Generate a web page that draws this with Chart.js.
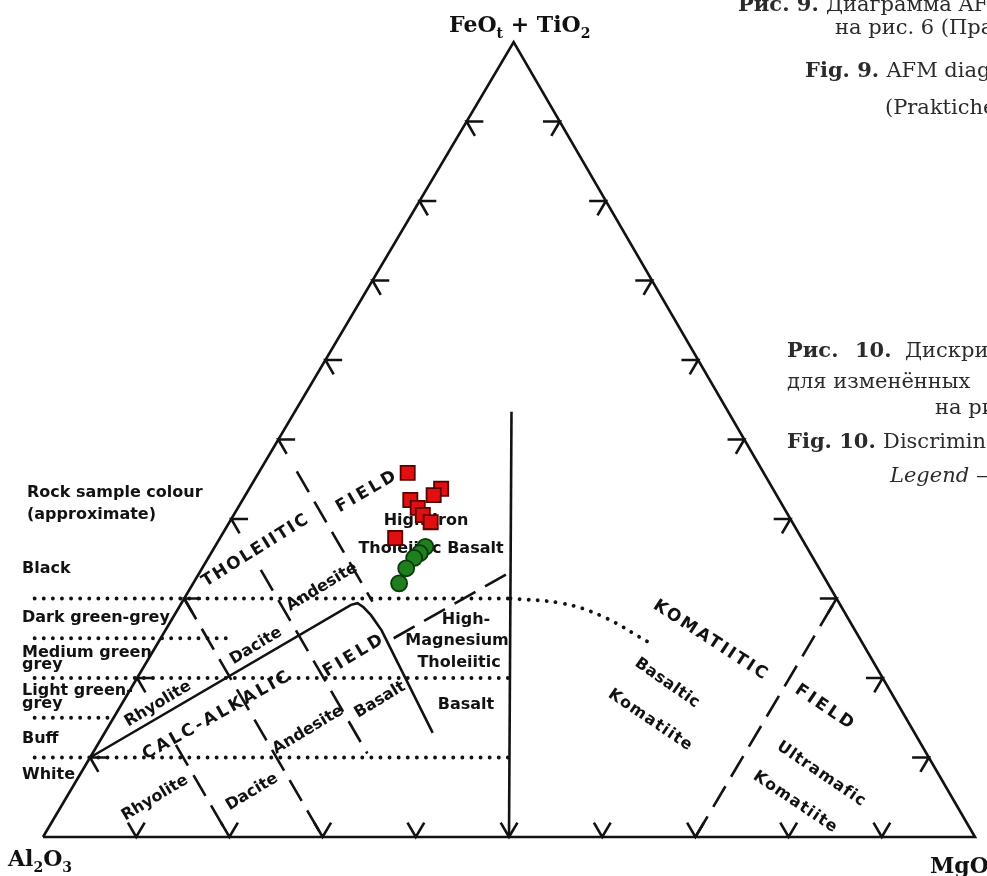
<!DOCTYPE html>
<html>
<head>
<meta charset="utf-8">
<script src="https://cdn.jsdelivr.net/npm/chart.js@4.4.1/dist/chart.umd.min.js"></script>
<style>
  html, body { margin: 0; padding: 0; background: #fff; overflow: hidden; }
  canvas { display: block; }
</style>
</head>
<body>
<canvas id="jensen" width="987" height="876"></canvas>
<script>
// Jensen cation plot, values in cation % as [Al, Fe+Ti, Mg]
const TICKS = [10, 20, 30, 40, 50, 60, 70, 80, 90];
const TRIANGLE = [[100, 0, 0], [0, 100, 0], [0, 0, 100], [100, 0, 0]];

// rock colour scale (dotted, Fe levels) and where each line stops (Mg)
const COLOUR_FE = [30, 25, 20, 15, 10];
const COLOUR_END_MG = [35, 7, 40, 0, 45];

// constant-Al dashed subdivisions: Al, Fe at top end, Fe at bottom end
const SUB_AL = [80, 70, 60, 50];
const SUB_FE_TOP = [11.6, 30, 33.6, 46];
const SUB_FE_BOTTOM = [0, 0, 10.5, 29.6];

const TH_CA_LINE = [[90, 10, 0], [52.5, 29.2, 18.3], [51.7, 29.4, 18.9], [51.3, 28.9, 19.8], [51, 27.9, 21.1], [50.8, 26, 23.2], [51.7, 13.1, 35.2]];
const FE_EQ_MG_DASH = [[50, 25, 25], [33.4, 33.3, 33.3]];
const AL_EQ_MG_LINE = [[50, 0, 50], [23.25, 53.5, 23.25]];
const KOMATIITE_DOTS = [[35, 30, 35], [29.8, 29.4, 40.8], [26.3, 27.8, 45.9], [22.9, 24.5, 52.6]];
const MG70_DASH = [[30, 0, 70], [0, 30, 70]];

// samples
const RED_AL = [38.2, 35.6, 36.8, 39.6, 39.3, 39.2, 38.8, 43.6];
const RED_FE = [45.8, 43.8, 43.0, 42.4, 41.4, 40.5, 39.6, 37.6];
const RED_MG = [16.0, 20.6, 20.2, 18.0, 19.3, 20.3, 21.6, 18.8];
const GREEN_AL = [40.9, 41.9, 42.8, 44.3, 46.0];
const GREEN_FE = [36.5, 35.7, 35.1, 33.8, 31.9];
const GREEN_MG = [22.6, 22.4, 22.1, 21.9, 22.1];

const INK = '#121212';
const TICK_LEN = 1.8;
const LEGEND_EDGE_U = -0.009;
const APEX_U = 0.505; // scanned apex sits slightly right of centre

const T = (al, fe, mg) => ({ x: (mg + fe * APEX_U) / 100, y: fe / 100 });

function poly(points, extra) {
    return Object.assign({
        data: points.map((p) => T(p[0], p[1], p[2])),
        showLine: true, pointRadius: 0, borderColor: INK, borderWidth: 2.6,
        fill: false, clip: false, tension: 0, borderCapStyle: 'butt', borderJoinStyle: 'miter',
    }, extra || {});
}
const DOTTED = { borderDash: [0.1, 9], borderCapStyle: 'round', borderWidth: 3.8 };
const DASHED = { borderDash: [24, 11], borderWidth: 2.6 };

// ─── datasets ─────────────────────────────────────────────
const datasets = [];

datasets.push({
    data: GREEN_AL.map((a, i) => T(a, GREEN_FE[i], GREEN_MG[i])),
    pointStyle: 'circle', pointRadius: 8, backgroundColor: '#1f7f1f', borderColor: '#0a3a0a', borderWidth: 1.8, clip: false,
});
datasets.push({
    data: RED_AL.map((a, i) => T(a, RED_FE[i], RED_MG[i])),
    pointStyle: 'rect', pointRadius: 10, backgroundColor: '#e01010', borderColor: '#5a0000', borderWidth: 1.8, clip: false,
});

datasets.push(poly(TRIANGLE));
datasets.push(poly(TH_CA_LINE));
datasets.push(poly(AL_EQ_MG_LINE));
datasets.push(poly(FE_EQ_MG_DASH, DASHED));
datasets.push(poly(MG70_DASH, DASHED));
datasets.push(poly(KOMATIITE_DOTS, Object.assign({ tension: 0.4 }, DOTTED)));

SUB_AL.forEach((al, i) => {
    const top = SUB_FE_TOP[i], bot = SUB_FE_BOTTOM[i];
    datasets.push(poly([[al, top, 100 - al - top], [al, bot, 100 - al - bot]], DASHED));
});

COLOUR_FE.forEach((fe, i) => {
    const ds = poly([[0, fe, 0], [100 - fe - COLOUR_END_MG[i], fe, COLOUR_END_MG[i]]], DOTTED);
    ds.data[0] = { x: LEGEND_EDGE_U, y: fe / 100 };
    datasets.push(ds);
});

// tick chevrons, vertex on the side, opening inward
const d = TICK_LEN;
TICKS.forEach((t) => {
    datasets.push(poly([[100 - t - d, d, t], [100 - t, 0, t], [100 - t, d, t - d]]));   // bottom
    datasets.push(poly([[100 - t - d, t, d], [100 - t, t, 0], [100 - t, t - d, d]]));   // left
    datasets.push(poly([[d, t, 100 - t - d], [0, t, 100 - t], [d, t - d, 100 - t]]));   // right
});

// ─── text ─────────────────────────────────────────────────
const SANS = '"DejaVu Sans", "Liberation Sans", sans-serif';
const SERIF = '"DejaVu Serif", serif';
const CAPS = 'bold 17px ' + SANS;
const LOWER = 'bold 16px ' + SANS;

const PLOT_LABELS = [
    { t: 'THOLEIITIC', x: 255, y: 551, r: -32, f: CAPS, ls: 1.8 },
    { t: 'FIELD', x: 366, y: 492, r: -30, f: CAPS, ls: 3 },
    { t: 'High-Iron', x: 426, y: 521, r: 0, f: LOWER },
    { t: 'Tholeiitic Basalt', x: 431, y: 549, r: 0, f: LOWER },
    { t: 'Andesite', x: 322, y: 587, r: -31, f: LOWER },
    { t: 'Dacite', x: 256, y: 646, r: -31, f: LOWER },
    { t: 'Rhyolite', x: 158, y: 704, r: -31, f: LOWER },
    { t: 'CALC-ALKALIC', x: 216, y: 716, r: -29, f: CAPS, ls: 2.6 },
    { t: 'FIELD', x: 353, y: 656, r: -31, f: CAPS, ls: 3 },
    { t: 'Andesite', x: 308, y: 730, r: -31, f: LOWER },
    { t: 'Basalt', x: 380, y: 700, r: -31, f: LOWER },
    { t: 'Rhyolite', x: 155, y: 798, r: -31, f: LOWER },
    { t: 'Dacite', x: 252, y: 792, r: -31, f: LOWER },
    { t: 'High-', x: 466, y: 620, r: 0, f: LOWER },
    { t: 'Magnesium', x: 457, y: 641, r: 0, f: LOWER },
    { t: 'Tholeiitic', x: 459, y: 663, r: 0, f: LOWER },
    { t: 'Basalt', x: 466, y: 705, r: 0, f: LOWER },
    { t: 'KOMATIITIC', x: 710, y: 640, r: 33, f: CAPS, ls: 2.4 },
    { t: 'Basaltic', x: 667, y: 683, r: 35, f: LOWER, ls: 0.5 },
    { t: 'Komatiite', x: 650, y: 720, r: 34, f: LOWER, ls: 1.2 },
    { t: 'FIELD', x: 824, y: 707, r: 34, f: CAPS, ls: 3 },
    { t: 'Ultramafic', x: 821, y: 774, r: 34, f: LOWER, ls: 1 },
    { t: 'Komatiite', x: 795, y: 802, r: 34, f: LOWER, ls: 1.2 },
];

const LEGEND_LINES = [
    ['Rock sample colour', 27, 497], ['(approximate)', 27, 519], ['Black', 22, 573],
    ['Dark green-grey', 22, 622], ['Medium green', 22, 657], ['grey', 22, 669],
    ['Light green-', 22, 695], ['grey', 22, 708], ['Buff', 22, 743], ['White', 22, 779],
];

// runs: [text, font, baseline shift, optional absolute x]
const B22 = 'bold 22px ' + SERIF, B13 = 'bold 14px ' + SERIF;
const CAP = '21px ' + SERIF, CAPB = 'bold 21px ' + SERIF, CAPI = 'italic 21px ' + SERIF;
const RICH = [
    { x: 449, y: 32, c: '#111', runs: [['FeO', B22, 0], ['t', B13, 6], [' + TiO', B22, 0], ['2', B13, 6]] },
    { x: 8, y: 866, c: '#111', runs: [['Al', B22, 0], ['2', B13, 6], ['O', B22, 0], ['3', B13, 6]] },
    { x: 930, y: 873, c: '#111', runs: [['MgO', B22, 0]] },
    { x: 738, y: 11, runs: [['Рис. 9. ', CAPB, 0], ['Диаграмма AFM', CAP, 0]] },
    { x: 835, y: 34, runs: [['на рис. 6 (Практич', CAP, 0]] },
    { x: 805, y: 77, runs: [['Fig. 9. ', CAPB, 0], ['AFM diagram', CAP, 0]] },
    { x: 885, y: 114, runs: [['(Praktichesk', CAP, 0]] },
    { x: 787, y: 357, runs: [['Рис.', CAPB, 0], ['10.', CAPB, 0, 855], ['Дискрим', CAP, 0, 905]] },
    { x: 787, y: 388, runs: [['для изменённых', CAP, 0]] },
    { x: 935, y: 414, runs: [['на рис', CAP, 0]] },
    { x: 787, y: 448, runs: [['Fig. 10. ', CAPB, 0], ['Discrimination', CAP, 0]] },
    { x: 890, y: 482, runs: [['Legend — ', CAPI, 0]] },
];

function drawPlotLabels(ctx) {
    ctx.save();
    ctx.fillStyle = INK;
    ctx.textAlign = 'center';
    ctx.textBaseline = 'middle';
    PLOT_LABELS.forEach((l) => {
        ctx.save();
        ctx.translate(l.x, l.y);
        ctx.rotate(l.r * Math.PI / 180);
        ctx.font = l.f;
        ctx.letterSpacing = (l.ls || 0) + 'px';
        ctx.fillText(l.t, (l.ls || 0) / 2, 0);
        ctx.restore();
    });
    ctx.restore();
}

function drawPageText(ctx) {
    ctx.save();
    ctx.fillStyle = INK;
    ctx.textBaseline = 'alphabetic';
    ctx.textAlign = 'left';
    ctx.font = 'bold 16px ' + SANS;
    LEGEND_LINES.forEach(([t, x, y]) => ctx.fillText(t, x, y));

    RICH.forEach((r) => {
        let x = r.x;
        ctx.fillStyle = r.c || '#2b2b2b';
        r.runs.forEach(([t, font, dy, ax]) => {
            if (ax !== undefined) x = ax;
            ctx.font = font;
            ctx.fillText(t, x, r.y + dy);
            x += ctx.measureText(t).width;
        });
    });
    ctx.restore();
}

const textPlugin = {
    id: 'jensenText',
    beforeDatasetsDraw(chart) { drawPlotLabels(chart.ctx); },
    afterDraw(chart) { drawPageText(chart.ctx); },
};

new Chart(document.getElementById('jensen'), {
    type: 'scatter',
    data: { datasets },
    options: {
        responsive: false,
        animation: false,
        events: [],
        layout: { padding: { left: 43, right: 12, top: 42, bottom: 39 } },
        plugins: { legend: { display: false }, tooltip: { enabled: false } },
        scales: {
            x: { type: 'linear', min: 0, max: 1, display: false },
            y: { type: 'linear', min: 0, max: 1, display: false },
        },
    },
    plugins: [textPlugin],
});
</script>
</body>
</html>
